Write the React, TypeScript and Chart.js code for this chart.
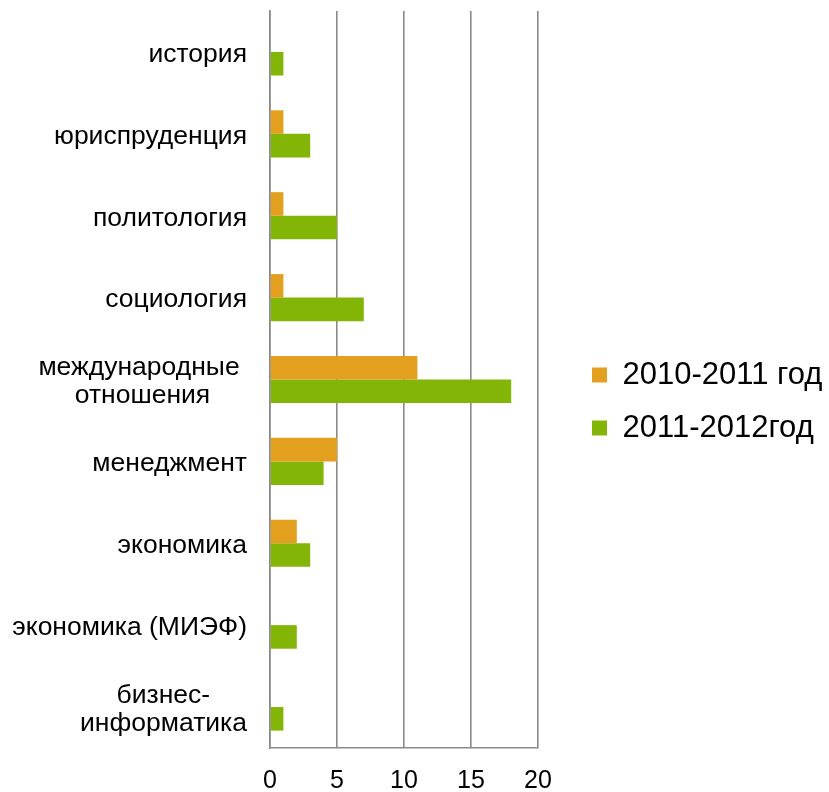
import React, { useEffect, useRef } from 'react';
import { Chart, registerables } from 'chart.js';

Chart.register(...registerables);

// ---- data ----
const categories: (string | string[])[] = [
  'история',
  'юриспруденция',
  'политология',
  'социология',
  ['международные ', 'отношения'],
  'менеджмент',
  'экономика',
  'экономика (МИЭФ)',
  ['бизнес-', 'информатика'],
];
const seriesNames = ['2010-2011 год', '2011-2012год'];
const values2010 = [0, 1, 1, 1, 11, 5, 2, 0, 0];
const values2011 = [1, 3, 5, 7, 18, 4, 3, 2, 1];
const xTickValues = [0, 5, 10, 15, 20];

// ---- styles ----
const FONT_FAMILY = "'Liberation Sans', Arial, sans-serif";
const CAT_FONT_SIZE = 26.5;
const ORANGE = '#E2A01E';
const GREEN = '#82B506';
const GRID = '#8A8A8A';
const W = 829;
const H = 792;
const PLOT_LEFT = 270;
const PLOT_RIGHT = 538;
const PLOT_TOP = 11;
const PLOT_BOTTOM = 748;
const LEGEND_SHIFT = 32;

function centerLines(label: string | string[]): string | string[] {
  if (!Array.isArray(label)) return label;
  const ctx = document.createElement('canvas').getContext('2d')!;
  ctx.font = `${CAT_FONT_SIZE}px ${FONT_FAMILY}`;
  const sp = ctx.measureText(' ').width;
  const trimmed = label.map((s) => s.replace(/\s+$/, ''));
  const widths = trimmed.map((s) => ctx.measureText(s).width);
  const maxW = Math.max(...widths);
  const extra = Math.max(...label.map((s, i) => ctx.measureText(s).width - widths[i]));
  return trimmed.map((s, i) => s + ' '.repeat(Math.max(0, Math.round(((maxW - widths[i]) / 2 + extra) / sp))));
}

const legendLayout = {
  id: 'legendLayout',
  beforeLayout(chart: any) {
    const lg = chart.legend;
    if (lg && !lg.__patched) {
      const orig = lg.fit.bind(lg);
      lg.fit = function () {
        orig();
        this.width = W - PLOT_RIGHT;
      };
      lg.__patched = true;
    }
  },
  afterLayout(chart: any) {
    const lg = chart.legend;
    if (lg) {
      lg.left += LEGEND_SHIFT;
      lg.right += LEGEND_SHIFT;
    }
  },
};

export default function App() {
  const ref = useRef<HTMLCanvasElement>(null);

  useEffect(() => {
    const canvas = ref.current!;
    const chart = new Chart(canvas, {
      type: 'bar',
      data: {
        labels: categories as any,
        datasets: [
          {
            label: seriesNames[0],
            data: values2010,
            backgroundColor: ORANGE,
            borderWidth: 0,
            barPercentage: 1,
            categoryPercentage: 0.575,
          },
          {
            label: seriesNames[1],
            data: values2011,
            backgroundColor: GREEN,
            borderWidth: 0,
            barPercentage: 1,
            categoryPercentage: 0.575,
          },
        ],
      },
      options: {
        indexAxis: 'y',
        responsive: false,
        animation: false,
        layout: { padding: { top: PLOT_TOP, left: 0, right: 0, bottom: 0 } },
        scales: {
          x: {
            min: xTickValues[0],
            max: xTickValues[xTickValues.length - 1],
            afterBuildTicks: (scale: any) => {
              scale.ticks = xTickValues.map((v) => ({ value: v }));
            },
            afterFit: (scale: any) => {
              scale.height = H - PLOT_BOTTOM;
              scale.paddingLeft = 0;
              scale.paddingRight = 0;
            },
            grid: { color: GRID, lineWidth: 1.6, drawTicks: false },
            border: { display: true, color: GRID, width: 1.6 },
            ticks: {
              padding: 18,
              color: '#000',
              font: { family: FONT_FAMILY, size: 25 },
            },
          },
          y: {
            afterFit: (scale: any) => {
              scale.width = PLOT_LEFT;
              scale.paddingTop = 0;
              scale.paddingBottom = 0;
            },
            grid: { display: false, drawTicks: false },
            border: { display: true, color: GRID, width: 1.6 },
            ticks: {
              padding: 23,
              labelOffset: 2.5,
              color: '#000',
              autoSkip: false,
              font: { family: FONT_FAMILY, size: CAT_FONT_SIZE, lineHeight: 1.06 },
              callback: (_v: any, i: number) => centerLines(categories[i]) as any,
            },
          },
        },
        plugins: {
          tooltip: { enabled: false },
          legend: {
            position: 'right',
            align: 'center',
            labels: {
              boxWidth: 15,
              boxHeight: 15,
              padding: 22,
              color: '#000',
              font: { family: FONT_FAMILY, size: 31 },
            },
          },
        },
      },
      plugins: [legendLayout],
    } as any);
    return () => chart.destroy();
  }, []);

  return (
    <div style={{ position: 'fixed', left: 0, top: 0, width: W, height: H, background: '#fff' }}>
      <canvas ref={ref} width={W} height={H} style={{ display: 'block', width: W, height: H }} />
    </div>
  );
}
